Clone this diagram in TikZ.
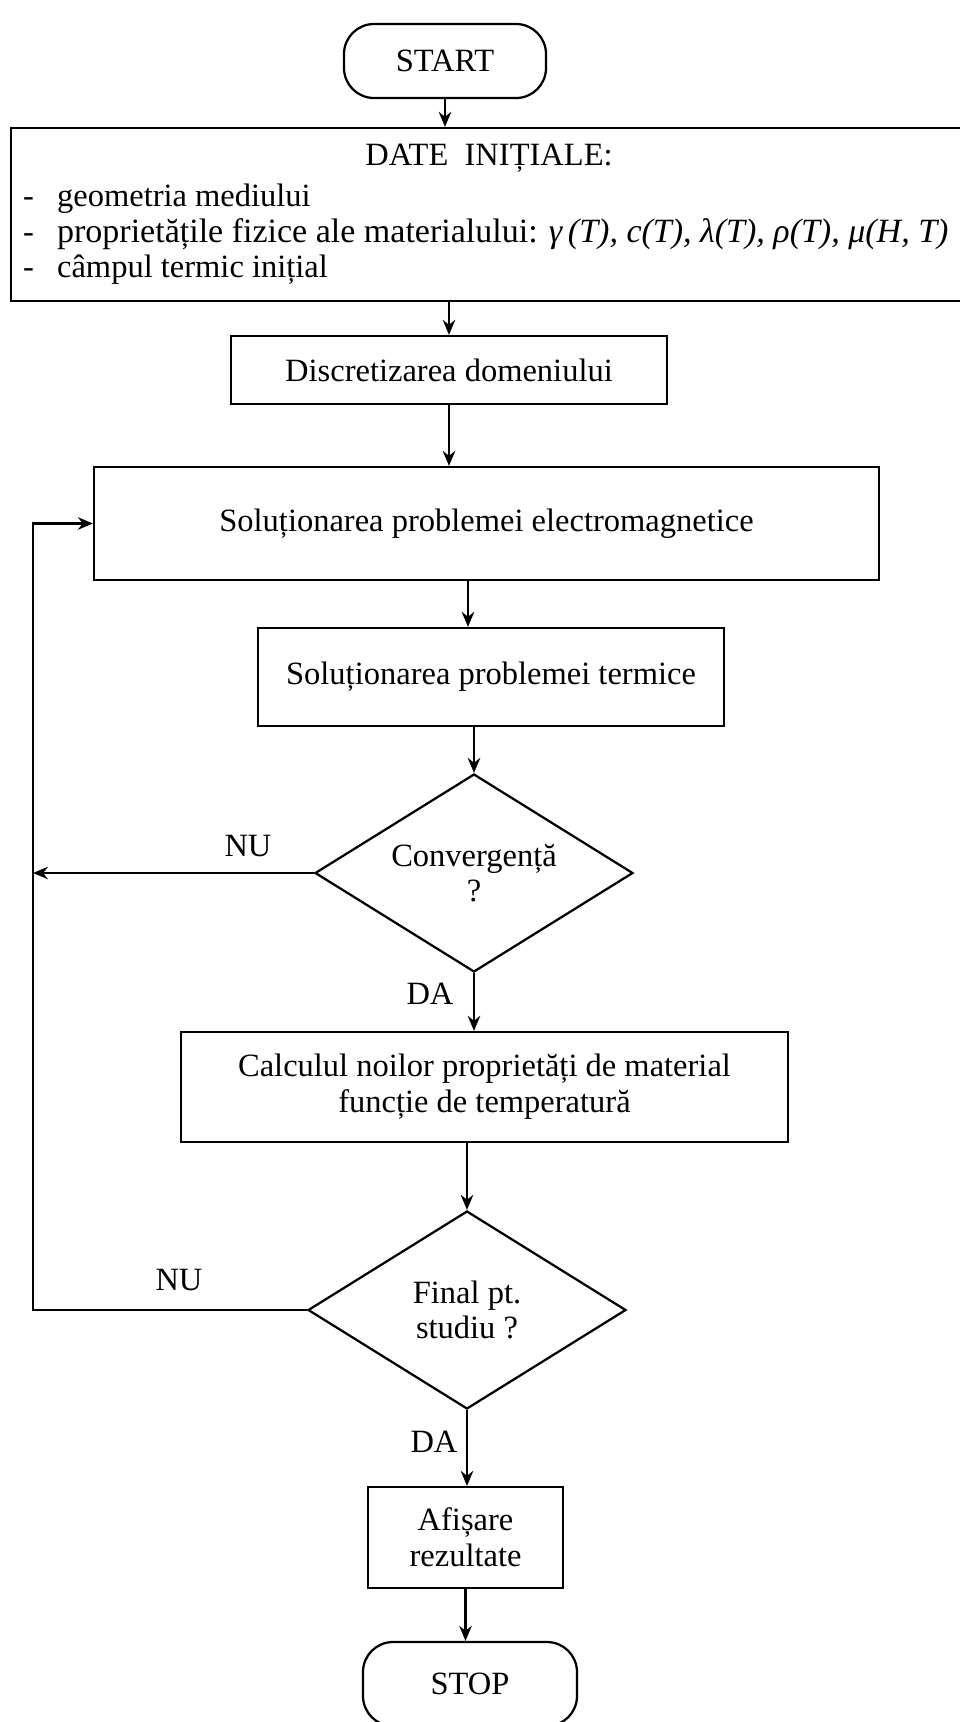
\documentclass[tikz,border=0pt]{standalone}
\usepackage{fontspec}
\setmainfont{Liberation Serif}
\usetikzlibrary{shapes.geometric,arrows.meta}
\begin{document}
\begin{tikzpicture}[x=0.4pt,y=-0.4pt,line width=0.9pt,>={Stealth[length=6pt,width=5pt]}]
\tikzstyle{every node}+=[inner sep=0pt,font=\fontsize{13}{14.3}\selectfont]
\tikzstyle{blk}=[draw,rectangle,align=center]
\tikzstyle{term}=[draw,rectangle,rounded corners=12pt,minimum width=80.8pt,minimum height=29.6pt]
\tikzstyle{decide}=[draw,diamond,aspect=1.6,align=center,minimum width=127.2pt,minimum height=79.2pt]
\useasboundingbox (0,0) rectangle (960,1722);
\node[term] (start) at (445,61) {START};
\node[blk,minimum width=381.6pt,minimum height=69.2pt] (date) at (488,214.5) {};
\node[anchor=base] (dtitle) at (489,165) {DATE \ INIȚIALE:};
\node[anchor=base west] (d1) at (22,206) {\makebox[13.6pt][l]{-}geometria mediului};
\node[anchor=base west] (d2) at (22,242) {\makebox[13.6pt][l]{-}{\fontsize{13.6}{14.3}\selectfont proprietățile fizice ale materialului: {\itshape γ\,(T), c(T), λ(T), ρ(T), μ(H, T)}}};
\node[anchor=base west] (d3) at (22,277) {\makebox[13.6pt][l]{-}câmpul termic inițial};
\node[blk,minimum width=174.4pt,minimum height=27.2pt] (disc) at (449,370) {Discretizarea domeniului};
\node[blk,minimum width=314pt,minimum height=45.2pt] (em) at (486.5,523.5) {Soluționarea problemei electromagnetice};
\node[blk,minimum width=186.4pt,minimum height=39.2pt] (therm) at (491,677) {Soluționarea problemei termice};
\node[decide] (conv) at (474,873) {Convergență\\?};
\node[blk,minimum width=242.8pt,minimum height=44pt] (calc) at (484.5,1087) {Calculul noilor proprietăți de material\\funcție de temperatură};
\node[decide] (fin) at (467,1310) {Final pt.\\studiu ?};
\node[blk,minimum width=78pt,minimum height=40.4pt] (afis) at (465.5,1537.5) {Afișare\\rezultate};
\node[term,minimum width=85.6pt,minimum height=33.6pt] (stop) at (470,1684) {STOP};
\coordinate (ret) at (33,1310);
\node (nu1) at (248,846) {NU};
\node (da1) at (430,994) {DA};
\node (nu2) at (179,1280) {NU};
\node (da2) at (434,1442) {DA};
\draw[->] (start) -- (start |- date.north);
\draw[->] (disc |- date.south) -- (disc);
\draw[->] (disc) -- (disc |- em.north);
\draw[->] ([xshift=-7.4pt]em.south) -- ([xshift=-7.4pt]em.south |- therm.north);
\draw[->] (therm.south -| conv.north) -- (conv.north);
\draw[->] (conv.south) -- (conv.south |- calc.north);
\draw[->] (calc.south -| fin.north) -- (fin.north);
\draw[->] (fin.south) -- (fin.south |- afis.north);
\draw[->] (afis) -- (afis |- stop.north);
\draw[->] (conv.west) -- (ret |- conv.west);
\draw[->] (fin.west) -- (ret) |- (em.west);
\end{tikzpicture}
\end{document}
